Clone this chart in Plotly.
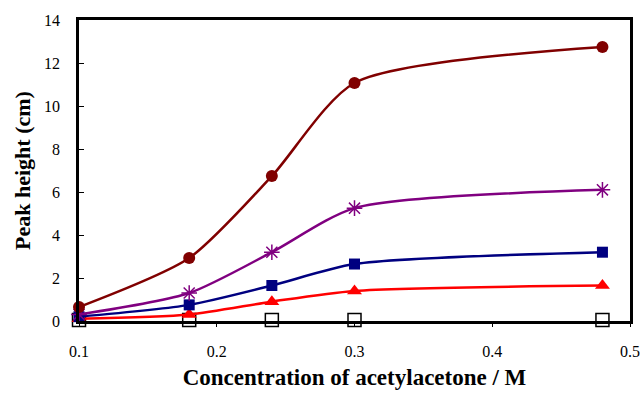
import plotly.graph_objects as go

conc = [0.1, 0.18, 0.24, 0.3, 0.48]
s_darkred = [0.65, 2.93, 6.74, 11.07, 12.74]
s_purple = [0.3, 1.3, 3.2, 5.25, 6.1]
s_blue = [0.2, 0.75, 1.65, 2.65, 3.2]
s_red = [0.1, 0.3, 0.9, 1.4, 1.65]
s_open = [0.05, 0.05, 0.05, 0.05, 0.05]

x_ticks = [0.1, 0.2, 0.3, 0.4, 0.5]
x_ticktext = ["0.1", "0.2", "0.3", "0.4", "0.5"]
y_ticks = [0, 2, 4, 6, 8, 10, 12, 14]

FONT = "Liberation Serif"

fig = go.Figure()

def add(y, color, symbol, size, line=True, mline=None):
    fig.add_trace(go.Scatter(
        x=conc, y=y,
        mode="lines+markers" if line else "markers",
        line=dict(color=color, width=2.5, shape="spline", smoothing=0.7),
        marker=dict(symbol=symbol, size=size, color=color,
                    line=mline if mline else dict(width=0, color=color)),
        showlegend=False, cliponaxis=False))

add(s_open, "black", "square-open", 13, line=False, mline=dict(color="black", width=1.5))
add(s_red, "#ff0000", "triangle-up", 13)
add(s_blue, "#000080", "square", 11)
add(s_purple, "#800080", "asterisk-open", 13, mline=dict(color="#800080", width=1.5))
add(s_darkred, "#800000", "circle", 12)

fig.update_layout(
    width=642, height=394,
    margin=dict(l=79, r=12, t=20, b=73, autoexpand=False),
    plot_bgcolor="white", paper_bgcolor="white",
    font=dict(family=FONT, size=16, color="black"),
    xaxis=dict(range=[0.1, 0.5], tickvals=x_ticks, ticktext=x_ticktext, automargin=False,
               showline=True, linecolor="black", linewidth=2.5, mirror=True,
               ticks="outside", ticklen=14, tickwidth=1, tickcolor="rgba(0,0,0,0)",
               showgrid=False, zeroline=False,
               tickfont=dict(size=16, family=FONT),
               title=dict(text="<b>Concentration of acetylacetone / M</b>",
                          font=dict(size=23, family=FONT), standoff=10)),
    xaxis2=dict(range=[0.1, 0.5], tickvals=x_ticks, overlaying="x", side="bottom",
                showticklabels=False, showline=False, showgrid=False, zeroline=False,
                ticks="outside", ticklen=5, tickwidth=1, tickcolor="black", automargin=False),
    yaxis=dict(range=[0, 14], tickvals=y_ticks, automargin=False,
               showline=True, linecolor="black", linewidth=2.5, mirror=True,
               ticks="outside", ticklen=13, tickwidth=1, tickcolor="rgba(0,0,0,0)",
               showgrid=False, zeroline=False,
               tickfont=dict(size=16, family=FONT),
               title=dict(text="<b>Peak height (cm)</b>",
                          font=dict(size=22, family=FONT), standoff=8)),
    yaxis2=dict(range=[0, 14], tickvals=y_ticks, overlaying="y", side="left",
                showticklabels=False, showline=False, showgrid=False, zeroline=False,
                ticks="inside", ticklen=5, tickwidth=1, tickcolor="black", automargin=False),
)

# invisible helper trace to anchor the overlay axes
fig.add_trace(go.Scatter(x=[conc[0]], y=[s_open[0]], xaxis="x2", yaxis="y2",
                         mode="markers", marker=dict(opacity=0), showlegend=False,
                         hoverinfo="skip"))

fig.write_html("out.html")
